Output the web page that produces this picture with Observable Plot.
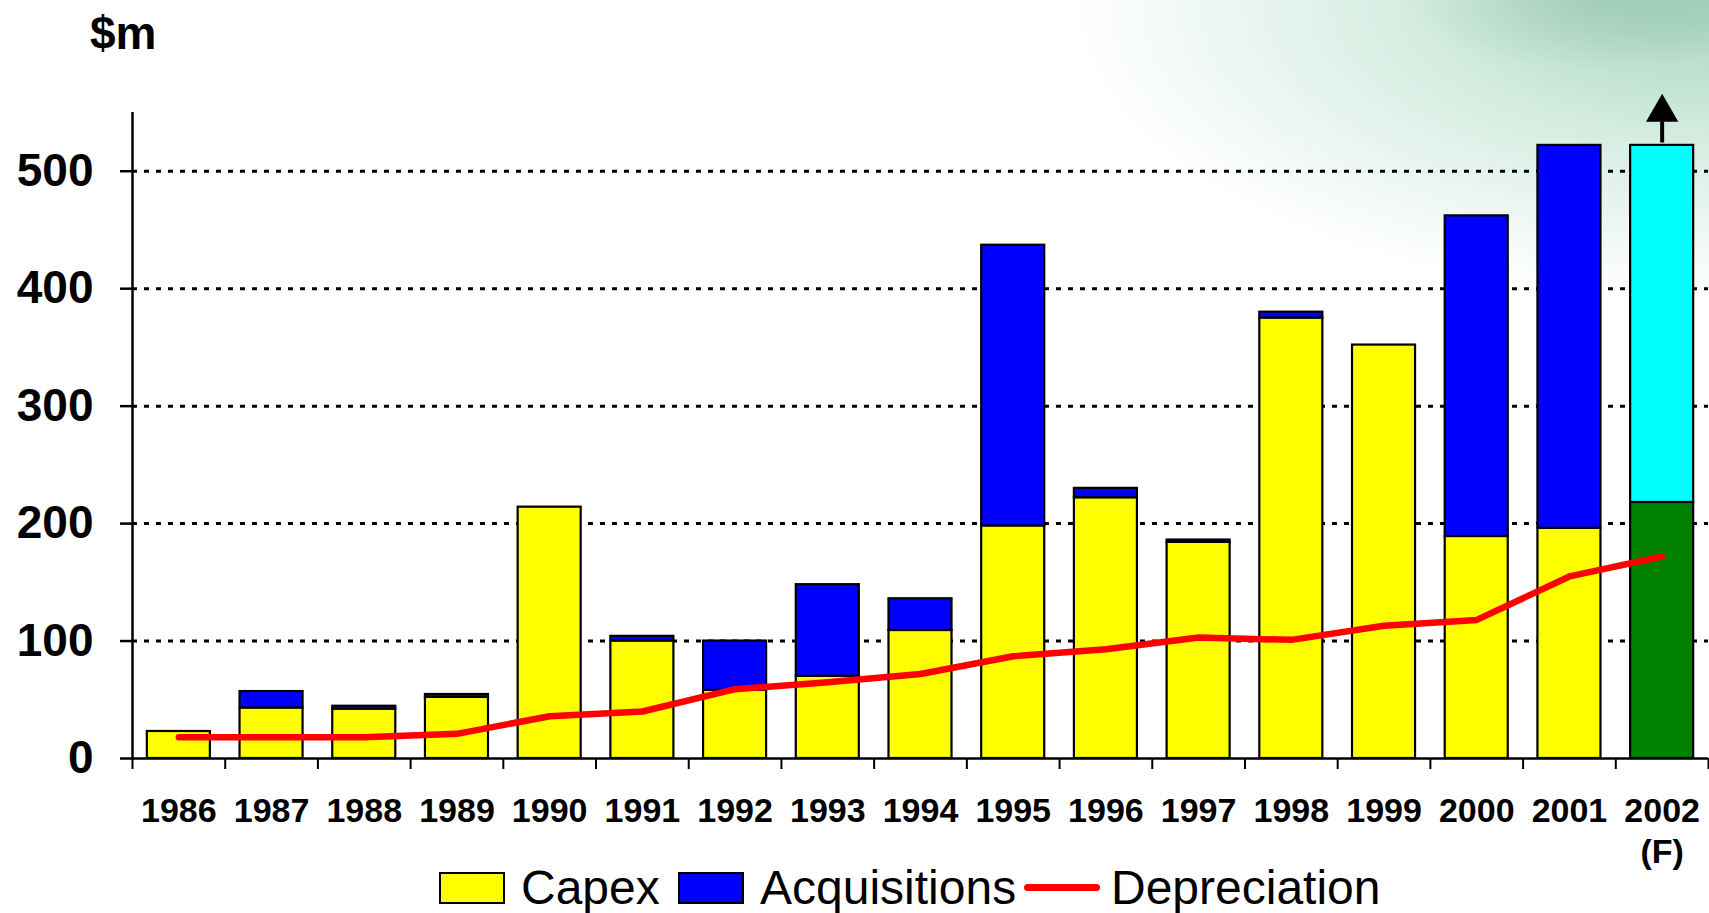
<!DOCTYPE html>
<html>
<head>
<meta charset="utf-8">
<script src="https://cdn.jsdelivr.net/npm/d3@7"></script>
<script src="https://cdn.jsdelivr.net/npm/@observablehq/plot@0.6"></script>
<style>
  html, body { margin: 0; padding: 0; }
  body {
    width: 1709px; height: 913px; overflow: hidden; position: relative;
    font-family: "Liberation Sans", Arial, sans-serif; color: #000;
    background:
      radial-gradient(ellipse 200px 70px at 1600px 0px, rgba(120,175,150,0.35), rgba(120,175,150,0) 100%),
      radial-gradient(ellipse 640px 300px at 1709px 0px, #a6d4bd 0%, #d3ece0 45%, rgba(255,255,255,0) 100%),
      #ffffff;
  }
  #title { position: absolute; left: 90px; top: 10px; font-size: 46px; font-weight: bold; line-height: 1; }
  #chart { position: absolute; left: 0; top: 70px; }
  #legend { position: absolute; left: 0; top: 862px; height: 51px; width: 1709px; }
  .item { position: absolute; top: 0; height: 51px; display: flex; align-items: center; }
  .box { width: 62px; height: 28px; border: 2px solid #000; }
  .line { width: 76px; height: 7px; border-radius: 4px; background: #ff0000; }
  .lab { font-size: 48px; line-height: 1; }
</style>
</head>
<body>
<div id="title">$m</div>
<div id="chart"></div>
<div id="legend"></div>
<script>
// ---- data ----
const years = ["1986","1987","1988","1989","1990","1991","1992","1993","1994","1995","1996","1997","1998","1999","2000","2001","2002"];
const yearLabels = ["1986","1987","1988","1989","1990","1991","1992","1993","1994","1995","1996","1997","1998","1999","2000","2001","2002\n(F)"];
const capex = [23, 43, 42, 52, 214, 100, 58, 70, 109, 198, 222, 184, 375, 352, 189, 196, 218];
const acquisitions = [0, 14, 2.5, 2.5, 0, 4, 42, 78, 27, 239, 8, 2, 5, 0, 273, 326, 304];
const depreciation = [18, 18, 18, 21, 36, 40, 59, 65, 72, 87, 93, 103, 101, 113, 118, 155, 172];
const yTicks = [0, 100, 200, 300, 400, 500];
const gridTicks = [100, 200, 300, 400, 500];
const forecastYear = "2002";

// colours
const C = {capex: "#ffff00", acq: "#0000ff", capexF: "#008000", acqF: "#00ffff", dep: "#ff0000"};

// build table
const rows = [];
years.forEach((yr, i) => {
  const f = yr === forecastYear;
  rows.push({i, y1: 0, y2: capex[i], fill: f ? C.capexF : C.capex});
  if (acquisitions[i] > 0) rows.push({i, y1: capex[i], y2: capex[i] + acquisitions[i], fill: f ? C.acqF : C.acq});
});
const dep = years.map((yr, i) => ({i, v: depreciation[i]}));
const fi = years.indexOf(forecastYear);
const fTop = capex[fi] + acquisitions[fi];
const half = 0.34;

const chart = Plot.plot({
  width: 1709,
  height: 792,
  marginLeft: 132,
  marginRight: 1,
  marginTop: 42,
  marginBottom: 104,
  style: {background: "transparent", overflow: "visible", fontFamily: "'Liberation Sans', Arial, sans-serif", color: "#000"},
  x: {domain: [-0.5, years.length - 0.5], axis: null},
  y: {domain: [0, 550], axis: null},
  marks: [
    Plot.ruleY(gridTicks, {stroke: "#000", strokeWidth: 3, strokeDasharray: "5,7"}),
    Plot.rectY(rows, {x1: d => d.i - half, x2: d => d.i + half, y1: "y1", y2: "y2", fill: "fill", stroke: "#000", strokeWidth: 2.2}),
    Plot.line(dep, {x: "i", y: "v", stroke: C.dep, strokeWidth: 6.5, strokeLinecap: "round", strokeLinejoin: "round"}),
    Plot.ruleX([fi], {y1: fTop + 2, y2: fTop + 20, stroke: "#000", strokeWidth: 4}),
    Plot.dot([fi], {x: d => d, y: fTop + 28, symbol: "triangle", r: 12, fill: "#000", stroke: "none"}),
    Plot.ruleY([0], {stroke: "#000", strokeWidth: 2.5}),
    Plot.ruleX([-0.5], {y1: 0, y2: 550, stroke: "#000", strokeWidth: 2.5}),
    Plot.axisY({ticks: yTicks, tickSize: 12, tickPadding: 27, fontSize: 46, fontWeight: "bold", label: null, strokeWidth: 2.5, tickFormat: d => String(d)}),
    Plot.axisX({ticks: d3.range(-0.5, years.length, 1), tickSize: 11, tickFormat: () => "", label: null, strokeWidth: 2}),
    Plot.axisX({ticks: d3.range(years.length), tickSize: 0, tickPadding: 35, tickFormat: i => yearLabels[i], fontSize: 34, fontWeight: "bold", lineHeight: 1.2, label: null})
  ]
});
document.getElementById("chart").appendChild(chart);

// legend
const legend = document.getElementById("legend");
const items = [
  {left: 439, kind: "box", color: C.capex, text: "Capex"},
  {left: 678, kind: "box", color: C.acq, text: "Acquisitions"},
  {left: 1024, kind: "line", color: C.dep, text: "Depreciation"}
];
items.forEach(it => {
  const d = document.createElement("div");
  d.className = "item";
  d.style.left = it.left + "px";
  const sw = document.createElement("div");
  sw.className = it.kind;
  if (it.kind === "box") sw.style.background = it.color;
  const t = document.createElement("span");
  t.className = "lab";
  t.textContent = it.text;
  t.style.marginLeft = it.kind === "box" ? "16px" : "11px";
  d.appendChild(sw); d.appendChild(t);
  legend.appendChild(d);
});
</script>
</body>
</html>
